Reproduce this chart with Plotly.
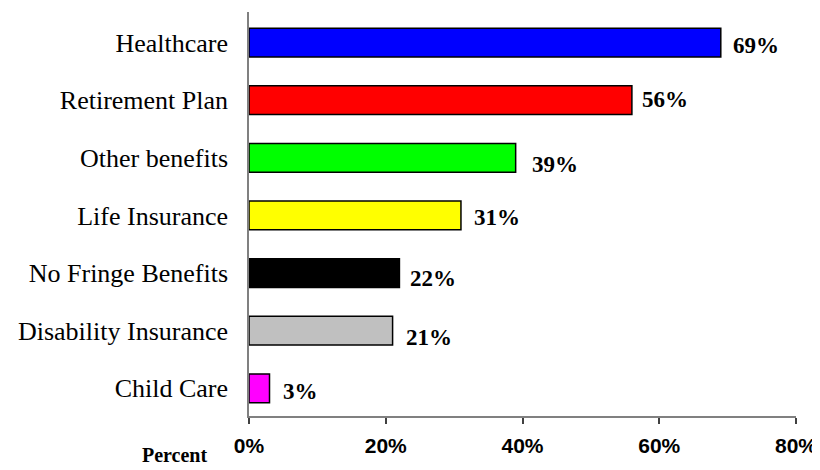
import plotly.graph_objects as go

categories = ["Healthcare", "Retirement Plan", "Other benefits", "Life Insurance",
              "No Fringe Benefits", "Disability Insurance", "Child Care"]
values = [69, 56, 39, 31, 22, 21, 3]
value_labels = ["69%", "56%", "39%", "31%", "22%", "21%", "3%"]
tick_vals = [0, 20, 40, 60, 80]
tick_text = ["0%", "20%", "40%", "60%", "80%"]

bar_colors = ["#0000FF", "#FF0000", "#00FF00", "#FFFF00", "#000000", "#C0C0C0", "#FF00FF"]
label_xshift = [10, 8, 14, 11, 9, 11, 11]
label_yshift = [-2.5, 0.5, -6.5, -2.5, -5.5, -6.5, -3.5]

fig = go.Figure()
fig.add_trace(go.Bar(
    x=values, y=categories, orientation="h",
    marker=dict(color=bar_colors, line=dict(color="#000000", width=1.5)),
    width=0.5, hoverinfo="skip",
))

for v, c, t, dx, dy in zip(values, categories, value_labels, label_xshift, label_yshift):
    fig.add_annotation(x=v, y=c, text=t, showarrow=False, xanchor="left", yanchor="middle",
                       xshift=dx, yshift=dy,
                       font=dict(family="Liberation Serif", size=23, color="#000000", weight="bold"))

fig.add_annotation(xref="paper", yref="paper", x=-0.137, y=-0.097, text="Percent",
                   showarrow=False, xanchor="center", yanchor="middle",
                   font=dict(family="Liberation Serif", size=20, color="#000000", weight="bold"))

fig.update_layout(
    width=812, height=462,
    margin=dict(l=241, r=24, t=4, b=54),
    paper_bgcolor="white", plot_bgcolor="white",
    showlegend=False,
    xaxis=dict(range=[0, 80], tickvals=tick_vals, ticktext=tick_text, automargin=False,
               showgrid=False, zeroline=False, showline=True, linecolor="#808080", linewidth=1.5,
               ticks="outside", ticklen=6, tickcolor="#404040", tickwidth=1.5,
               ticklabelstandoff=4,
               tickfont=dict(family="Liberation Sans", size=21, color="#000000", weight="bold")),
    yaxis=dict(categoryorder="array", categoryarray=categories, range=[6.48, -0.53],
               automargin=False,
               showgrid=False, zeroline=False, showline=True, linecolor="#808080", linewidth=1.5,
               ticks="", ticklabelstandoff=14,
               tickfont=dict(family="Liberation Serif", size=26, color="#000000")),
)

fig.write_html("out.html")
